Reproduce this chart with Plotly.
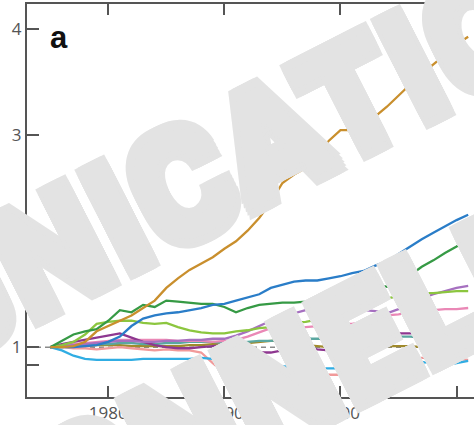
import plotly.graph_objects as go

years = list(range(1975, 2012))

orange = [1.00, 1.00, 1.01, 1.05, 1.15, 1.20, 1.25, 1.30, 1.37, 1.44,
          1.56, 1.65, 1.73, 1.79, 1.85, 1.93, 2.00, 2.10, 2.22, 2.37,
          2.55, 2.63, 2.69, 2.80, 2.95, 3.05, 3.05, 3.08, 3.18, 3.27,
          3.38, 3.48, 3.58, 3.67, 3.76, 3.86, 3.93]
blue = [1.00, 1.00, 1.00, 1.01, 1.02, 1.05, 1.10, 1.20, 1.27, 1.30,
        1.32, 1.33, 1.35, 1.37, 1.40, 1.41, 1.44, 1.47, 1.50, 1.56,
        1.59, 1.62, 1.63, 1.63, 1.65, 1.67, 1.70, 1.72, 1.77, 1.81,
        1.88, 1.95, 2.02, 2.08, 2.14, 2.20, 2.25]
green = [1.00, 1.06, 1.12, 1.15, 1.17, 1.25, 1.35, 1.33, 1.40, 1.38,
         1.44, 1.43, 1.42, 1.41, 1.41, 1.38, 1.33, 1.37, 1.40, 1.41,
         1.42, 1.42, 1.43, 1.46, 1.50, 1.53, 1.57, 1.60, 1.60, 1.57,
         1.61, 1.68, 1.76, 1.82, 1.89, 1.95, 2.02]
lgreen = [1.00, 1.02, 1.05, 1.12, 1.22, 1.24, 1.25, 1.25, 1.23, 1.22,
          1.23, 1.19, 1.16, 1.14, 1.13, 1.13, 1.15, 1.16, 1.18, 1.19,
          1.21, 1.23, 1.24, 1.26, 1.31, 1.36, 1.41, 1.43, 1.44, 1.46,
          1.48, 1.50, 1.51, 1.51, 1.52, 1.53, 1.53]
lilac = [1.00, 1.01, 1.02, 1.03, 1.04, 1.05, 1.06, 1.06, 1.05, 1.05,
         1.06, 1.06, 1.07, 1.07, 1.08, 1.08, 1.11, 1.15, 1.20, 1.25,
         1.29, 1.32, 1.35, 1.36, 1.37, 1.37, 1.36, 1.35, 1.34, 1.32,
         1.36, 1.41, 1.46, 1.50, 1.53, 1.56, 1.58]
pink = [1.00, 1.02, 1.03, 1.04, 1.05, 1.06, 1.07, 1.07, 1.07, 1.07,
        1.07, 1.06, 1.06, 1.06, 1.05, 1.06, 1.07, 1.10, 1.14, 1.18,
        1.21, 1.20, 1.19, 1.20, 1.21, 1.22, 1.22, 1.24, 1.27, 1.30,
        1.31, 1.33, 1.35, 1.35, 1.36, 1.36, 1.37]
magenta = [1.00, 1.03, 1.05, 1.07, 1.09, 1.11, 1.13, 1.09, 1.05, 1.02,
           1.00, 0.99, 0.99, 1.00, 1.01, 1.02, 1.00, 0.97, 0.95, 0.95,
           0.97, 0.99, 1.00, 0.98, 0.97, 0.99, 1.04, 1.07, 1.10, 1.12,
           1.13, 1.13, 1.14, 1.15, 1.15, 1.14, 1.13]
teal = [1.00, 1.01, 1.02, 1.02, 1.03, 1.03, 1.04, 1.04, 1.03, 1.03,
        1.04, 1.04, 1.05, 1.05, 1.05, 1.04, 1.04, 1.05, 1.06, 1.06,
        1.07, 1.07, 1.08, 1.08, 1.08, 1.08, 1.08, 1.09, 1.10, 1.10,
        1.10, 1.10, 1.09, 1.08, 1.08, 1.08, 1.08]
olive = [1.00, 1.00, 1.01, 1.01, 1.02, 1.02, 1.02, 1.01, 1.01, 1.01,
         1.01, 1.01, 1.02, 1.02, 1.03, 1.03, 1.03, 1.04, 1.05, 1.06,
         1.06, 1.04, 1.02, 1.01, 1.00, 1.00, 1.02, 1.03, 1.02, 1.01,
         1.01, 1.01, 1.00, 1.00, 1.00, 1.00, 1.00]
salmon = [1.00, 1.00, 0.99, 0.99, 0.98, 0.99, 1.00, 0.99, 0.98, 0.97,
          0.98, 0.97, 0.97, 0.95, 0.85, 0.76, 0.72, 0.72, 0.71, 0.71,
          0.71, 0.72, 0.72, 0.73, 0.74, 0.74, 0.75, 0.74, 0.72, 0.76,
          0.83, 0.88, 0.90, 0.90, 0.90, 0.89, 0.88]
cyan = [1.00, 0.97, 0.92, 0.89, 0.88, 0.88, 0.88, 0.88, 0.89, 0.89,
        0.89, 0.89, 0.89, 0.90, 0.89, 0.89, 0.87, 0.86, 0.85, 0.83,
        0.82, 0.81, 0.80, 0.80, 0.80, 0.80, 0.80, 0.80, 0.81, 0.83,
        0.86, 0.86, 0.86, 0.85, 0.83, 0.85, 0.87]

series = [
    ("olive", olive, "#a08a2b"),
    ("teal", teal, "#5aa7a0"),
    ("salmon", salmon, "#f19a9a"),
    ("cyan", cyan, "#30ade3"),
    ("pink", pink, "#ea88b6"),
    ("magenta", magenta, "#8e3790"),
    ("lilac", lilac, "#a670c0"),
    ("lgreen", lgreen, "#8cc63f"),
    ("green", green, "#369a45"),
    ("blue", blue, "#2a7dc8"),
    ("orange", orange, "#c98f2d"),
]

xticks = [1980, 1990, 2000, 2010]
yticks = [0.83, 1, 2, 3, 4]
yticklabels = ["", "1", "2", "3", "4"]

fig = go.Figure()
for name, vals, col in series:
    fig.add_trace(go.Scatter(x=years, y=vals, mode="lines", name=name,
                             line=dict(color=col, width=2.3),
                             showlegend=False, hoverinfo="skip"))

fig.add_shape(type="line", xref="paper", x0=0, x1=1, yref="y", y0=1, y1=1,
              line=dict(color="#8a8a8a", width=1.5, dash="5px,4px"), layer="below")

axis_col = "#555555"
fig.update_layout(
    width=474, height=425,
    margin=dict(l=27, r=0, t=4, b=28),
    paper_bgcolor="white", plot_bgcolor="white",
    xaxis=dict(range=[1973, 2011.5], tickvals=xticks, ticks="inside", ticklen=11,
               tickwidth=2, tickcolor=axis_col, showline=True, linecolor=axis_col,
               linewidth=2, mirror="ticks", showgrid=False, zeroline=False,
               tickfont=dict(family="Open Sans, Liberation Sans", size=17, color="#555")),
    yaxis=dict(range=[0.53, 4.24], tickvals=yticks, ticktext=yticklabels, ticks="inside",
               ticklen=12, tickwidth=2, tickcolor=axis_col, showline=True,
               linecolor=axis_col, linewidth=2, showgrid=False, zeroline=False,
               tickfont=dict(family="Open Sans, Liberation Sans", size=17, color="#555")),
)

fig.add_annotation(text="<b>a</b>", xref="paper", yref="paper", x=0.0705, y=0.916,
                   xanchor="center", yanchor="middle",
                   showarrow=False, font=dict(family="Liberation Sans, Arial", size=31, color="#111"))

wm_col = "#e3e3e3"
offs = [(dx, dy) for dx in (-4, 0, 4) for dy in (-9, -4, 0, 4, 9)]
wm_shadow = ", ".join(f"{dx}px {dy}px 0 {wm_col}" for dx, dy in offs)
wm_font = dict(family="Roboto, Lato, Liberation Sans", size=150, weight=900,
               color=wm_col, shadow=wm_shadow)
fig.add_annotation(text="COMMUNICATION", xref="paper", yref="paper", x=0.076, y=0.377,
                   xanchor="center", yanchor="middle",
                   showarrow=False, textangle=-27, font=wm_font)
fig.add_annotation(text="PERSONNELLE", xref="paper", yref="paper", x=0.315, y=-0.118,
                   xanchor="center", yanchor="middle",
                   showarrow=False, textangle=-27, font=wm_font)

fig.write_html("out.html")
